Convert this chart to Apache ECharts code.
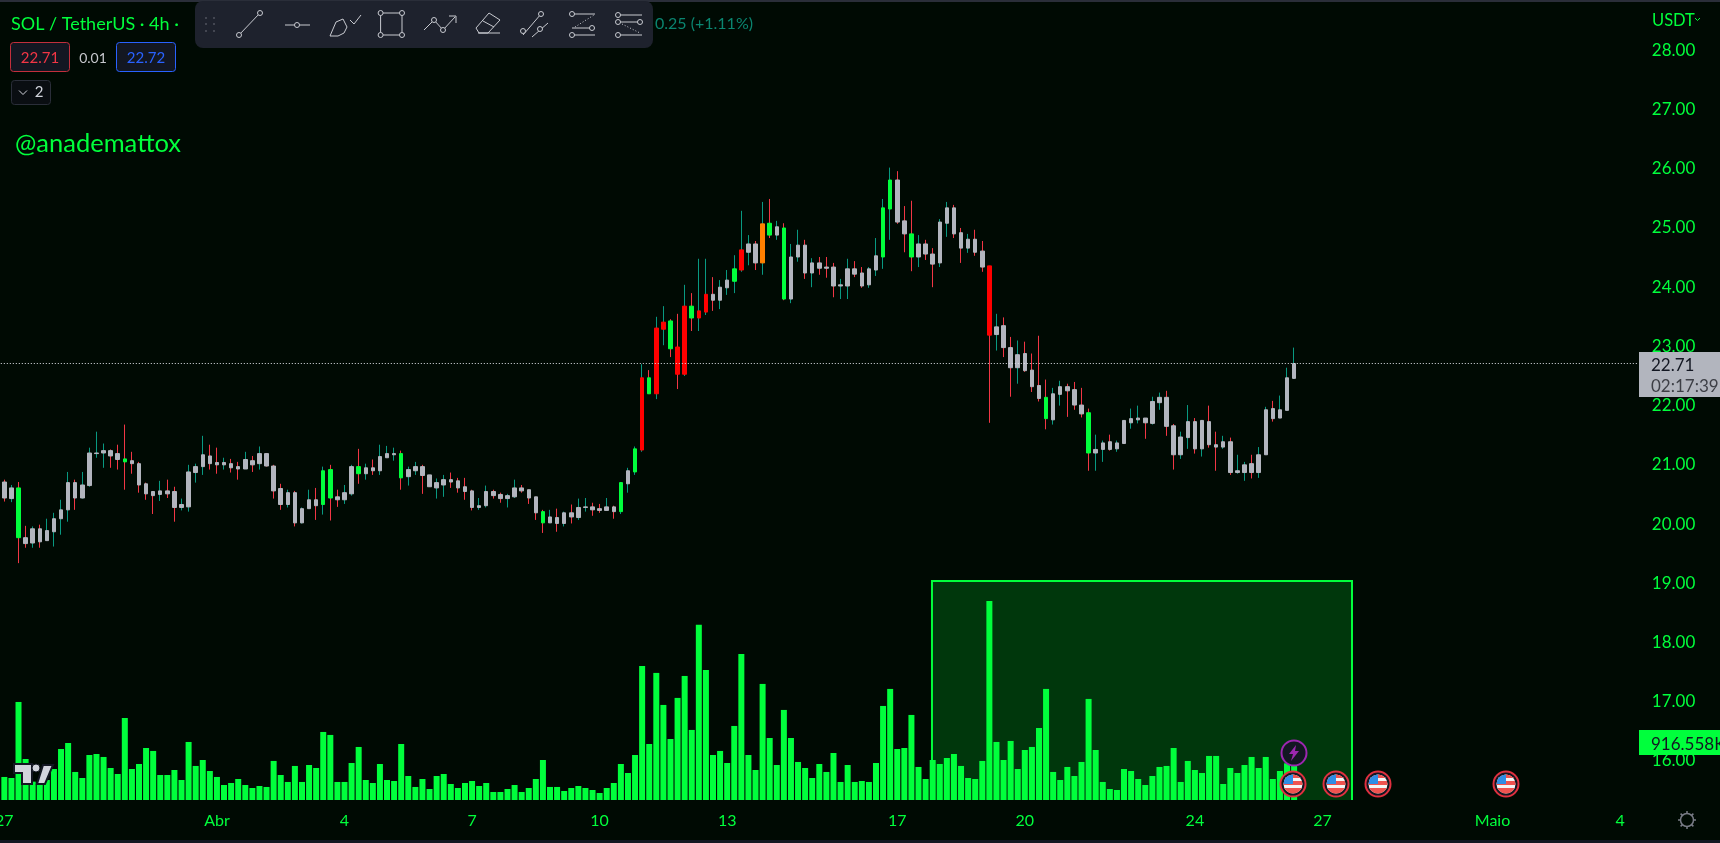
<!DOCTYPE html>
<html><head><meta charset="utf-8">
<style>html,body{margin:0;padding:0;background:#000a03;overflow:hidden}#c{width:1720px;height:843px}</style>
<script src="https://cdn.jsdelivr.net/npm/echarts@6/dist/echarts.min.js"></script>
</head><body><div id="c"></div>
<script>
const opens=[20.71,20.43,20.61,19.77,19.68,19.92,19.72,19.87,20.09,20.24,20.70,20.44,20.65,21.19,21.20,21.24,21.19,21.10,21.07,21.02,20.68,20.55,20.50,20.56,20.55,20.28,20.29,20.87,20.97,21.15,21.04,21.00,21.02,20.97,20.93,21.07,21.02,21.19,20.98,20.60,20.33,20.53,20.02,20.26,20.41,20.33,20.92,20.46,20.41,20.51,20.97,20.85,20.95,20.90,21.12,21.17,21.19,20.80,20.90,20.97,20.83,20.61,20.66,20.75,20.73,20.63,20.56,20.28,20.31,20.55,20.50,20.43,20.46,20.61,20.58,20.46,20.21,20.02,20.11,20.01,20.19,20.11,20.28,20.29,20.26,20.23,20.29,20.21,20.68,20.88,
21.25,22.47,22.20,23.29,23.43,22.99,22.53,23.68,23.48,23.58,23.88,23.78,23.99,24.10,24.29,24.59,24.73,24.41,25.08,24.88,25.00,23.80,24.51,24.71,24.24,24.41,24.34,24.34,24.02,24.02,24.31,24.24,24.04,24.29,24.51,25.32,25.81,25.12,24.90,24.51,24.73,24.56,24.41,25.08,25.34,24.92,24.66,24.81,24.61,24.36,23.20,23.35,22.98,22.64,22.88,22.60,22.34,22.14,21.76,22.19,22.32,22.27,22.01,21.88,21.20,21.26,21.39,21.27,21.36,21.71,21.76,21.79,21.70,22.05,22.14,21.66,21.17,21.46,21.73,21.27,21.73,21.34,21.30,21.39,20.87,20.87,21.02,20.87,21.17,21.95,21.79,21.92,22.46];
const closes=[20.44,20.61,19.77,19.67,19.92,19.70,19.89,20.09,20.24,20.70,20.44,20.66,21.20,21.20,21.24,21.15,21.09,21.05,21.02,20.66,20.51,20.48,20.56,20.51,20.28,20.33,20.88,20.97,21.17,21.02,21.00,21.04,20.95,20.93,21.09,21.00,21.19,20.98,20.56,20.33,20.53,20.02,20.26,20.41,20.31,20.90,20.44,20.41,20.53,20.97,20.85,20.95,20.90,21.14,21.19,21.19,20.78,20.92,20.97,20.82,20.63,20.70,20.75,20.71,20.61,20.55,20.28,20.31,20.55,20.48,20.43,20.48,20.61,20.56,20.44,20.19,20.02,20.12,20.01,20.19,20.12,20.28,20.29,20.24,20.23,20.29,20.21,20.70,20.90,21.27,
22.47,22.20,23.31,23.41,22.96,22.53,23.68,23.48,23.60,23.88,23.78,24.00,24.12,24.31,24.63,24.73,24.41,25.07,24.88,25.02,23.80,24.51,24.71,24.24,24.41,24.32,24.32,24.02,24.04,24.31,24.22,24.02,24.31,24.53,25.34,25.81,25.10,24.90,24.51,24.73,24.56,24.39,25.10,25.34,24.90,24.66,24.81,24.59,24.34,23.19,23.33,22.98,22.64,22.86,22.59,22.32,22.12,21.78,22.20,22.32,22.25,22.01,21.86,21.20,21.26,21.37,21.26,21.37,21.75,21.78,21.79,21.71,22.07,22.14,21.65,21.17,21.47,21.73,21.27,21.75,21.34,21.30,21.39,20.87,20.90,21.00,20.87,21.17,21.93,21.78,21.93,22.47,22.71];
const highs=[20.75,20.66,20.71,19.97,19.96,19.99,20.09,20.19,20.41,20.88,20.75,20.88,21.29,21.56,21.36,21.26,21.34,21.68,21.22,21.05,20.70,20.55,20.73,20.75,20.63,20.43,21.00,21.02,21.49,21.34,21.29,21.12,21.10,21.05,21.22,21.15,21.31,21.20,21.00,20.68,20.58,20.56,20.28,20.58,20.61,20.97,21.00,20.58,20.66,21.00,21.27,21.02,21.09,21.34,21.32,21.29,21.24,20.97,21.05,21.00,20.83,20.77,20.83,20.87,20.78,20.78,20.58,20.44,20.65,20.58,20.53,20.51,20.75,20.66,20.58,20.46,20.24,20.24,20.26,20.21,20.33,20.43,20.44,20.36,20.34,20.44,20.31,20.71,20.95,21.31,
22.70,22.60,23.50,23.68,23.46,23.55,24.04,23.90,24.48,24.48,24.17,24.12,24.29,24.54,25.29,24.88,24.78,25.44,25.49,25.12,25.08,24.73,24.97,24.80,24.49,24.51,24.51,24.41,24.14,24.48,24.44,24.34,24.34,24.83,25.49,26.02,25.96,25.37,25.46,24.88,24.80,24.66,25.15,25.44,25.39,25.00,24.90,24.97,24.78,24.36,23.55,23.49,23.16,23.10,23.08,22.88,23.18,22.44,22.30,22.42,22.37,22.40,22.30,21.95,21.51,21.41,21.51,21.41,21.75,21.95,22.00,21.79,22.15,22.22,22.25,21.69,21.56,22.01,21.79,21.75,22.00,21.56,21.49,21.46,21.17,21.05,21.17,21.30,21.98,22.08,22.17,22.64,22.98];
const lows=[20.38,20.37,19.34,19.60,19.60,19.60,19.72,19.62,19.82,20.04,20.24,20.43,20.63,21.12,20.95,20.95,20.92,20.58,20.85,20.53,20.41,20.17,20.39,20.44,20.04,20.23,20.21,20.70,20.83,20.92,20.85,20.92,20.87,20.75,20.93,20.88,20.92,20.97,20.43,20.24,20.28,19.96,20.01,20.26,20.07,20.16,20.06,20.29,20.34,20.48,20.68,20.75,20.83,20.83,21.12,21.07,20.58,20.65,20.83,20.51,20.63,20.43,20.46,20.61,20.53,20.41,20.23,20.24,20.28,20.43,20.36,20.28,20.44,20.53,20.34,20.07,19.85,20.02,19.87,19.96,20.01,20.07,20.21,20.14,20.19,20.23,20.09,20.17,20.53,20.83,
21.22,22.20,22.11,23.02,22.82,22.28,22.50,23.26,23.26,23.53,23.60,23.63,23.87,23.90,24.26,24.37,24.29,24.21,24.83,24.80,23.78,23.73,24.43,24.14,24.00,24.21,24.16,23.83,23.80,23.80,24.17,23.99,23.99,24.19,24.31,24.80,25.07,24.59,24.27,24.34,24.46,24.00,24.34,24.85,24.83,24.41,24.58,24.53,24.26,21.71,22.93,22.82,22.15,22.37,22.57,22.23,22.07,21.60,21.68,22.00,21.81,21.93,21.80,20.90,20.90,21.05,21.24,21.22,21.36,21.61,21.70,21.44,21.68,21.93,21.49,20.92,21.10,21.27,21.19,21.14,21.29,20.90,21.27,20.83,20.85,20.73,20.77,20.78,21.17,21.73,21.79,21.92,22.45];
// volume in thousands (K)
const volumes=[364,348,1549,648,290,264,316,490,806,901,443,348,711,727,680,506,411,1296,490,569,822,775,395,395,474,316,917,538,632,458,364,237,269,332,237,190,221,206,617,395,285,538,285,553,506,1075,1028,285,285,585,838,316,269,569,316,300,885,379,206,332,174,379,411,253,190,269,300,221,269,126,126,174,237,126,190,332,632,206,206,142,190,221,190,158,111,190,269,569,427,711,
2119,885,2008,1502,964,1613,1960,1107,2767,2055,711,775,585,1170,2308,711,474,1834,980,553,1423,980,601,506,348,569,443,743,285,553,285,300,285,585,1486,1755,806,822,1344,522,332,632,569,664,727,538,348,332,617,3146,917,632,933,490,790,838,1138,1755,443,316,522,379,601,1597,790,285,174,158,490,458,332,237,379,522,538,822,285,617,474,427,696,696,253,506,427,553,680,506,680,332,458,580,916.558];
const greenBodies=[2,17,45,46,50,56,76,87,89,91,94,97,103,108,110,124,125,128,147,153];
const redBodies=[90,92,93,95,96,98,99,104,139];
const orangeBodies=[107];
const tickIndexes=[0,30,48,66,84,102,126,144,168,186,210,228];
const tickLabels=['27','Abr','4','7','10','13','17','20','24','27','Maio','4'];
const priceTicks=[16,17,18,19,20,21,22,23,24,25,26,27,28];
const lastPrice=22.71;
const boxStart=130.9, boxEnd=190.17, boxTop=19.04, boxBottom=15.2;
const slotCount=231;

const BG='#000a03',GREEN='#00ff3c',TEAL='#089981',RED='#f23645',GRAY='#b2b5be',FONT='"Lato","Open Sans",sans-serif';
const categories=[];
for(let i=0;i<slotCount;i++)categories.push('t'+i);
const tone=i=>greenBodies.includes(i)?GREEN:redBodies.includes(i)?'#ff0000':orangeBodies.includes(i)?'#ff8000':GRAY;
const sty=c=>({color:c,color0:c,borderColor:c,borderColor0:c,borderColorDoji:c});
const wickData=opens.map((o,i)=>{const c=closes[i]>=o?TEAL:RED;return{value:[o,closes[i],lows[i],highs[i]],itemStyle:sty(c)};});
const bodyData=opens.map((o,i)=>({value:[o,closes[i],Math.min(o,closes[i]),Math.max(o,closes[i])],itemStyle:sty(tone(i))}));

const flagSvg=`<svg xmlns='http://www.w3.org/2000/svg' width='28' height='28'><defs><clipPath id='c'><circle cx='14' cy='14' r='9.5'/></clipPath></defs><circle cx='14' cy='14' r='12.5' fill='#131722' stroke='#e0303f' stroke-width='2'/><g clip-path='url(#c)'><rect width='28' height='28' fill='#f5f5f5'/><rect y='4' width='28' height='4' fill='#ef5350'/><rect y='11' width='28' height='4' fill='#ef5350'/><rect y='18' width='28' height='6' fill='#ef5350'/><rect x='4' y='4' width='10' height='10' fill='#2e8de6'/></g></svg>`;
const flagUrl='data:image/svg+xml;charset=utf-8,'+encodeURIComponent(flagSvg);
const ICON='#c8cad0';
const txt=(text,x,y,fill,size,align)=>({type:'text',z:60,style:{text,x,y,fill,font:size+'px '+FONT,verticalAlign:'middle',align:align||'left'}});
const ln=(x1,y1,x2,y2,c,w,dash)=>({type:'line',z:60,shape:{x1,y1,x2,y2},style:{stroke:c||ICON,lineWidth:w||1,lineDash:dash}});
const dot=(cx,cy,r)=>({type:'circle',z:61,shape:{cx,cy,r:r||2.5},style:{fill:'#1e222d',stroke:ICON,lineWidth:1}});
const poly=(points,style)=>({type:'polyline',z:60,shape:{points},style:Object.assign({stroke:ICON,lineWidth:1,fill:null},style||{})});
const box=(x,y,w,h,fill,stroke,r)=>({type:'rect',z:55,shape:{x,y,width:w,height:h,r:r||0},style:{fill,stroke,lineWidth:stroke?1:0}});
const flag=x=>({type:'image',z:70,style:{image:flagUrl,x:x-14,y:770,width:28,height:28}});

const graphics=[
 box(0,0,1720,2,'#2a2e39'),
 box(0,840,1720,3,'#131722'),
 txt('SOL / TetherUS · 4h ·',11,24,GREEN,18),
 txt('0.25 (+1.11%)',655,24,'#0a8570',16),
 box(10.5,42.5,59,29,'#131722','#c22f3c',3),
 txt('22.71',40,58.5,RED,15,'center'),
 txt('0.01',93,58.5,'#c5c7cc',14,'center'),
 box(116.5,42.5,59,29,'#131722','#2962ff',3),
 txt('22.72',146,58.5,'#2962ff',15,'center'),
 box(11.5,80.5,39,24,'#0a0e12','#2a2e39',3),
 poly([[19,90.5],[23,94.5],[27,90.5]],{stroke:'#d1d4dc'}),
 txt('2',39,92.5,'#d1d4dc',15,'center'),
 txt('@anademattox',15,144,GREEN,25.5),
 // drawing toolbar
 box(195,1,458,47,'#1e222d',null,8),
 ...[206,214].flatMap(x=>[18,24,31].map(y=>({type:'circle',z:60,shape:{cx:x,cy:y,r:1},style:{fill:'#50535e'}}))),
 ln(260,13,239,35),dot(260,13),dot(239,35),
 ln(285,25,310,25),dot(297,25),
 poly([[330,36],[336,22],[343,19],[347,27],[344,33],[338,36],[330,36]]),poly([[350,20],[354,24],[361,15]]),
 {type:'rect',z:60,shape:{x:380.6,y:13,width:21.4,height:22},style:{fill:null,stroke:ICON,lineWidth:1}},dot(380.6,13),dot(402,13),dot(380.6,35),dot(402,35),
 poly([[424,30],[434,20],[443,30],[455,17]]),poly([[449,16],[456,16],[456,23]]),dot(434,20),dot(443,30),
 poly([[476,28],[489,13],[500,20],[488,33],[479,33],[476,28]]),ln(483,21,494,27),ln(478,33,500,33),
 ln(541,14,523,35),dot(541,14),dot(523,31),ln(548,23,532,37),dot(540,29),
 ln(572,14,595,14),ln(572,28,595,28),ln(572,35,595,35),dot(572,14),dot(592,28,2.5),dot(572,35),ln(575,27,594,15,ICON,1,[1,2]),
 ln(618,15,642,15),ln(618,22,642,22),ln(618,35,642,35),dot(618,15),dot(618,22),dot(640,22),dot(618,35),ln(622,24,640,33,ICON,1,[1,2]),
 // price scale chrome
 txt('USDT',1652,21,GREEN,16.5),
 poly([[1695,18],[1697.5,20.5],[1700,18]],{stroke:GREEN}),
 box(1639,352,81,45,GRAY),
 txt('22.71',1651,366,'#131722',17),
 txt('02:17:39',1651,387,'#3d3f46',17),
 box(1639,730,81,25,GREEN),
 txt('916.558K',1651,744.5,'#131722',17),
 // settings gear
 {type:'circle',z:60,shape:{cx:1687,cy:820,r:6.5},style:{fill:null,stroke:'#787b86',lineWidth:1.5}},
 ...[[0,-9,0,-6.5],[0,6.5,0,9],[-9,0,-6.5,0],[6.5,0,9,0],[-6.4,-6.4,-4.6,-4.6],[4.6,4.6,6.4,6.4],[-6.4,6.4,-4.6,4.6],[4.6,-4.6,6.4,-6.4]].map(a=>ln(1687+a[0],820+a[1],1687+a[2],820+a[3],'#787b86',1.5)),
 // TradingView logo
 {type:'polygon',z:62,shape:{points:[[14,764],[32,764],[32,784],[22,784],[22,773],[14,773]]},style:{fill:'#d1d4dc',stroke:'#131722',lineWidth:2}},
 {type:'circle',z:62,shape:{cx:36,cy:768,r:4},style:{fill:'#d1d4dc',stroke:'#131722',lineWidth:1}},
 {type:'polygon',z:62,shape:{points:[[43,765],[53,765],[45,784],[37,784]]},style:{fill:'#d1d4dc',stroke:'#131722',lineWidth:2}},
 // event markers
 {type:'circle',z:70,shape:{cx:1294,cy:753,r:12.5},style:{fill:'#131722',stroke:'#9c27b0',lineWidth:2}},
 {type:'polygon',z:71,shape:{points:[[1296,745],[1289,754],[1293,754],[1291,761],[1299,751],[1295,751]]},style:{fill:'#9c27b0'}},
 flag(1293),flag(1336),flag(1378),flag(1506)
];

const option={
 animation:false,backgroundColor:BG,
 textStyle:{fontFamily:FONT},
 grid:[{left:0.8,width:1637,top:0,height:800,outerBoundsMode:'none',containLabel:false},{left:0.8,width:1637,top:590,height:210,outerBoundsMode:'none',containLabel:false}],
 xAxis:[
  {type:'category',gridIndex:0,data:categories,show:false},
  {type:'category',gridIndex:1,data:categories,axisLine:{show:false},axisTick:{show:false},splitLine:{show:false},
   axisLabel:{color:GREEN,fontSize:16,fontFamily:FONT,margin:13,hideOverlap:false,showMinLabel:true,
     interval:i=>tickIndexes.includes(i),
     formatter:(v,i)=>{const k=tickIndexes.indexOf(i);return k<0?'':tickLabels[k];}}},
  {type:'value',gridIndex:0,min:-0.5,max:slotCount-0.5,show:false}
 ],
 yAxis:[
  {type:'value',gridIndex:0,position:'right',min:15.34,max:28.85,splitLine:{show:false},axisLine:{show:false},axisTick:{show:false},
   axisLabel:{color:GREEN,fontSize:17,fontFamily:FONT,margin:14,padding:[1.5,0,0,0],customValues:priceTicks,formatter:v=>v.toFixed(2)}},
  {type:'value',gridIndex:1,min:0,max:3318,show:false}
 ],
 series:[
  {type:'custom',name:'range',xAxisIndex:2,yAxisIndex:0,z:1,clip:true,silent:true,
   encode:{x:[0,1],y:[2,3]},
   data:[[boxStart,boxEnd,boxTop,boxBottom]],
   renderItem:(p,api)=>{
     const a=api.coord([api.value(0),api.value(2)]),b=api.coord([api.value(1),api.value(3)]);
     return {type:'group',children:[
       {type:'rect',shape:{x:a[0],y:a[1],width:b[0]-a[0],height:b[1]-a[1]},style:{fill:'#00370c'}},
       {type:'polyline',shape:{points:[[a[0],b[1]],[a[0],a[1]],[b[0],a[1]],[b[0],b[1]]]},style:{fill:null,stroke:GREEN,lineWidth:2}}
     ]};
   }},
  {type:'bar',name:'Volume',xAxisIndex:1,yAxisIndex:1,data:volumes,barWidth:6,z:2,itemStyle:{color:GREEN},silent:true},
  {type:'candlestick',name:'Wicks',xAxisIndex:0,yAxisIndex:0,data:wickData,barWidth:1,z:3,silent:true,
   itemStyle:{borderWidth:1},
   markLine:{silent:true,symbol:'none',label:{show:false},animation:false,
     lineStyle:{color:'#e0e3eb',type:[1,2],width:1},data:[{yAxis:lastPrice}]}},
  {type:'candlestick',name:'SOL/USDT',xAxisIndex:0,yAxisIndex:0,data:bodyData,barWidth:4,z:4,silent:true,itemStyle:{borderWidth:1}}
 ],
 graphic:graphics
};
const chart=echarts.init(document.getElementById('c'),null,{renderer:'canvas'});
chart.setOption(option);
</script></body></html>
